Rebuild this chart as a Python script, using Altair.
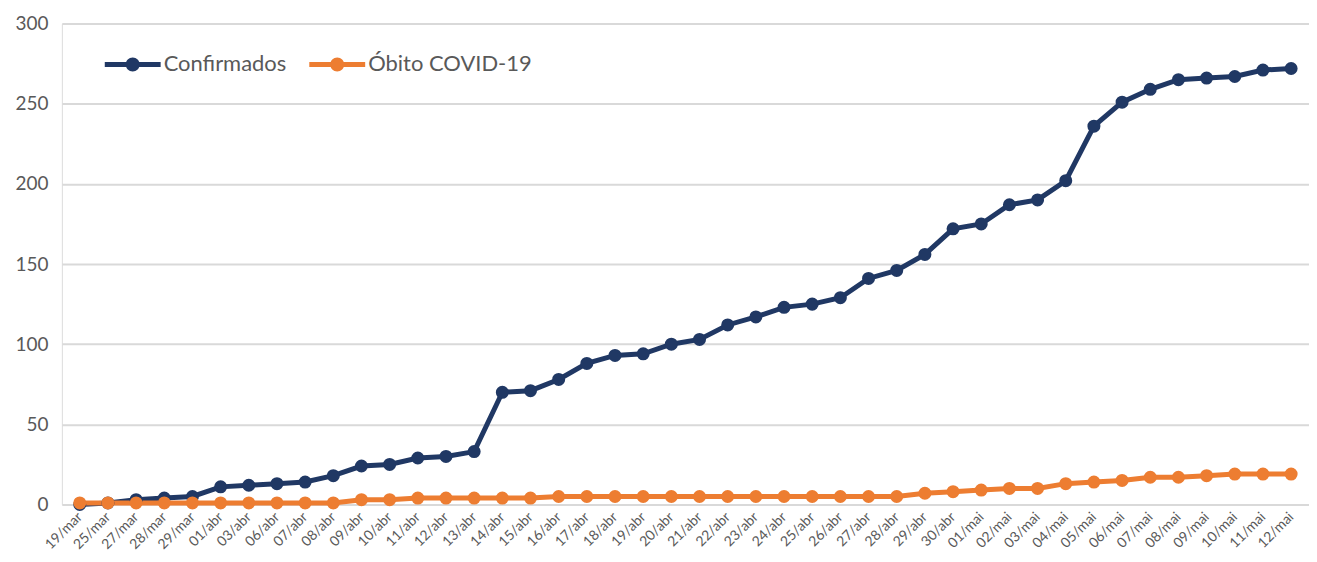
import altair as alt
import pandas as pd

datas = ["19/mar", "25/mar", "27/mar", "28/mar", "29/mar", "01/abr", "03/abr", "06/abr",
         "07/abr", "08/abr", "09/abr", "10/abr", "11/abr", "12/abr", "13/abr", "14/abr",
         "15/abr", "16/abr", "17/abr", "18/abr", "19/abr", "20/abr", "21/abr", "22/abr",
         "23/abr", "24/abr", "25/abr", "26/abr", "27/abr", "28/abr", "29/abr", "30/abr",
         "01/mai", "02/mai", "03/mai", "04/mai", "05/mai", "06/mai", "07/mai", "08/mai",
         "09/mai", "10/mai", "11/mai", "12/mai"]

confirmados = [0, 1, 3, 4, 5, 11, 12, 13, 14, 18, 24, 25, 29, 30, 33, 70, 71, 78, 88, 93,
               94, 100, 103, 112, 117, 123, 125, 129, 141, 146, 156, 172, 175, 187, 190,
               202, 236, 251, 259, 265, 266, 267, 271, 272]

obitos = [1, 1, 1, 1, 1, 1, 1, 1, 1, 1, 3, 3, 4, 4, 4, 4, 4, 5, 5, 5, 5, 5, 5, 5, 5, 5,
          5, 5, 5, 5, 7, 8, 9, 10, 10, 13, 14, 15, 17, 17, 18, 19, 19, 19]

series = ["Confirmados", "Óbito COVID-19"]
cores = ["#203864", "#ED7D31"]

rows = []
for i, d in enumerate(datas):
    rows.append({"data": d, "serie": series[0], "valor": confirmados[i], "ordem": 0})
    rows.append({"data": d, "serie": series[1], "valor": obitos[i], "ordem": 1})
df = pd.DataFrame(rows)

FONT = "Lato"
GRAY = "#595959"

legend_path = ("M-1,-0.09L1,-0.09L1,0.09L-1,0.09Z "
               "M0.25,0A0.25,0.25,0,1,1,-0.25,0A0.25,0.25,0,1,1,0.25,0Z")

chart = alt.Chart(df).mark_line(
    strokeWidth=5,
    point=alt.OverlayMarkDef(filled=True, size=170),
).encode(
    x=alt.X("data:N", sort=datas, title=None,
            scale=alt.Scale(type="point", padding=0.635),
            axis=alt.Axis(labelAngle=-45, labelFontSize=14, labelColor=GRAY,
                          labelFont=FONT, ticks=False, domain=False, grid=False,
                          labelPadding=10, labelAlign="right", labelBaseline="middle")),
    y=alt.Y("valor:Q", title=None,
            scale=alt.Scale(domain=[0, 300], nice=False),
            axis=alt.Axis(values=[0, 50, 100, 150, 200, 250, 300], labelFontSize=19,
                          labelColor=GRAY, labelFont=FONT, ticks=False, domain=False,
                          gridColor="#d9d9d9", gridWidth=2, labelPadding=14)),
    color=alt.Color("serie:N", sort=series,
                    scale=alt.Scale(domain=series, range=cores),
                    legend=alt.Legend(title=None, orient="none", direction="horizontal",
                                      legendX=43, legendY=13,
                                      symbolType=legend_path, symbolSize=3136,
                                      symbolStrokeWidth=0, labelFontSize=22,
                                      labelColor=GRAY, labelFont=FONT, labelLimit=400,
                                      columnPadding=22, labelOffset=3)),
    order=alt.Order("ordem:Q"),
    detail="serie:N",
).properties(
    width=1250, height=482,
    padding={"left": 54, "top": 15, "right": 0, "bottom": 56},
    autosize=alt.AutoSizeParams(type="none"),
).configure_view(stroke=None).configure(background="white")

chart.save("out.html", embed_options={"renderer": "svg", "actions": False})
